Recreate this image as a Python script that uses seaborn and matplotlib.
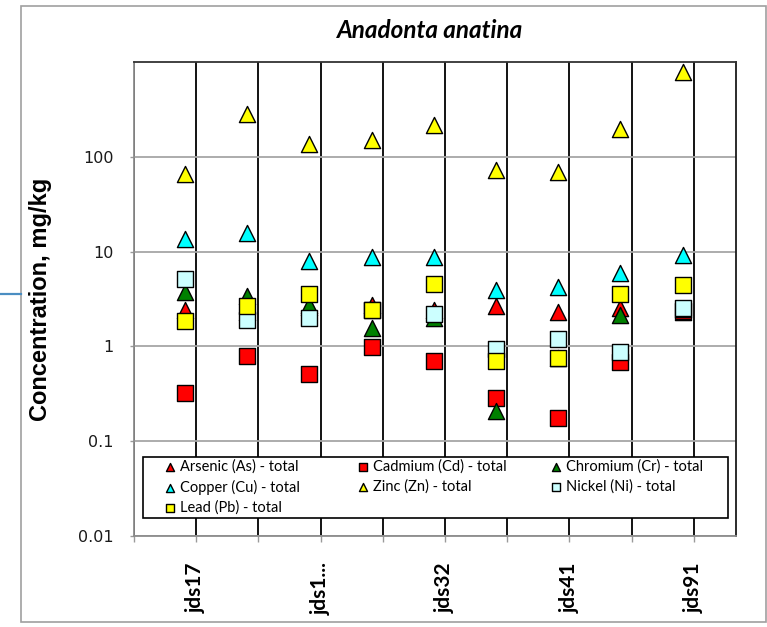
import numpy as np
import pandas as pd
import matplotlib
matplotlib.use("Agg")
import matplotlib.pyplot as plt
import seaborn as sns
from matplotlib.lines import Line2D
from matplotlib.patches import Rectangle
from matplotlib.ticker import NullLocator
from matplotlib.transforms import ScaledTranslation

# Sampling stations (only every other name is printed on the axis)
stations = ["jds17", "", "jds1...", "", "jds32", "", "jds41", "", "jds91"]

# Total metal concentrations in Anadonta anatina, mg/kg
arsenic  = [2.43, 2.30, 2.59, 2.72, 2.41, 2.70, 2.32, 2.55, 2.30]
cadmium  = [0.32, 0.80, 0.515, 0.99, 0.695, 0.286, 0.176, 0.68, 2.34]
chromium = [3.73, 3.39, 2.75, 1.55, 1.97, 0.209, 0.748, 2.17, 2.50]
copper   = [13.7, 15.8, 8.04, 8.79, 8.86, 3.95, 4.21, 5.91, 9.14]
zinc     = [66.2, 281, 137, 152, 214, 71.8, 69.0, 196, 785]
nickel   = [5.2, 1.91, 1.97, 2.41, 2.21, 0.94, 1.21, 0.87, 2.57]
lead     = [1.86, 2.64, 3.58, 2.41, 4.60, 0.695, 0.748, 3.58, 4.46]

series = [
    ("Arsenic (As) - total", arsenic, "^", "#ff0000"),
    ("Cadmium (Cd) - total", cadmium, "s", "#ff0000"),
    ("Chromium (Cr) - total", chromium, "^", "#008000"),
    ("Copper (Cu) - total", copper, "^", "#00ffff"),
    ("Zinc (Zn) - total", zinc, "^", "#ffff00"),
    ("Nickel (Ni) - total", nickel, "s", "#ccffff"),
    ("Lead (Pb) - total", lead, "s", "#ffff00"),
]

W, H = 767, 627
fig = plt.figure(figsize=(W / 100, H / 100), dpi=100)
ax = fig.add_axes([134 / W, 1 - 536 / H, 602 / W, 474 / H])

pos = np.arange(1, len(stations) + 1)
for name, vals, mk, col in series:
    df = pd.DataFrame({"station": pos, "value": vals})
    sns.scatterplot(data=df, x="station", y="value", marker=mk, s=135,
                    color=col, edgecolor="black", linewidth=1.0,
                    label=name, zorder=3, ax=ax, legend=False)

# axes: log scale, category separators just right of each station
ax.set_yscale("log")
ax.set_ylim(0.01, 1000)
ax.set_yticks([0.01, 0.1, 1, 10, 100])
ax.set_yticklabels(["0.01", "0.1", "1", "10", "100"])
ax.yaxis.set_minor_locator(NullLocator())

sep = np.arange(len(stations) + 1) + 0.18
ax.set_xlim(0.18, 9.86)
ax.set_xticks(sep)
ax.set_xticklabels([""] + stations, rotation=90, fontsize=15,
                   fontweight="bold", family="Lato", va="center")
ax.xaxis.set_minor_locator(NullLocator())
for lab in ax.get_xticklabels():
    lab.set_transform(lab.get_transform() +
                      ScaledTranslation(-7 / 100, 0, fig.dpi_scale_trans))

ax.set_xlabel("")
ax.set_axisbelow(True)
ax.yaxis.grid(True, color="#a6a6a6", linewidth=1.3)
ax.xaxis.grid(True, color="black", linewidth=1.3)

ax.tick_params(axis="x", direction="out", length=4.5, width=1.0,
               color="#9a9a9a", pad=33)
ax.tick_params(axis="y", direction="out", length=3, width=1.0,
               color="#9a9a9a", pad=11.5, labelsize=11.5,
               labelcolor="#1a1a1a")
for lab in ax.get_yticklabels():
    lab.set_family("DejaVu Sans")

ax.spines["left"].set_color("#8c8c8c")
ax.spines["bottom"].set_color("#8c8c8c")
ax.spines["top"].set_color("#333333")
ax.spines["right"].set_color("#1a1a1a")
for sp in ax.spines.values():
    sp.set_linewidth(1.3)

ax.set_ylabel("Concentration, mg/kg", fontsize=17, fontweight="bold",
              family="Liberation Sans")
ax.yaxis.set_label_coords(-0.136, 0.5)

fig.text(430 / W, 1 - 31 / H, "Anadonta anatina", ha="center", va="center",
         fontsize=17.5, fontweight="bold", fontstyle="italic", family="Lato")

# legend: boxed panel with three columns filled row by row
handles, labels = ax.get_legend_handles_labels()
lookup = dict(zip(labels, handles))
ax.add_patch(Rectangle((9 / 602, 18 / 474), 585 / 602, 61 / 474,
                       transform=ax.transAxes, facecolor="white",
                       edgecolor="black", linewidth=1.2, zorder=4))
columns = [[0, 3, 6], [1, 4], [2, 5]]
col_x = [29 / 602, 222 / 602, 415 / 602]
for k, (cx, idx) in enumerate(zip(col_x, columns)):
    names = [series[i][0] for i in idx]
    leg = ax.legend([lookup[n] for n in names], names, loc="upper left",
                    bbox_to_anchor=(cx, 77 / 474), borderaxespad=0,
                    borderpad=0, frameon=False, markerscale=0.5,
                    handletextpad=0.15, handlelength=1.0,
                    labelspacing=0.42, prop={"family": "Lato", "size": 10.5})
    leg.set_zorder(5)
    if k < len(columns) - 1:
        ax.add_artist(leg)

# outer frame of the chart and the connector stub on its left
fig.patches.append(Rectangle((21 / W, 1 - 622 / H), 745 / W, 616 / H,
                             transform=fig.transFigure, fill=False,
                             edgecolor="#a0a0a0", linewidth=1.2))
fig.lines.append(Line2D([0, 21 / W], [1 - 294 / H, 1 - 294 / H],
                        transform=fig.transFigure, color="#4a8ec2",
                        linewidth=1.6))

fig.savefig("out.png", dpi=100)
